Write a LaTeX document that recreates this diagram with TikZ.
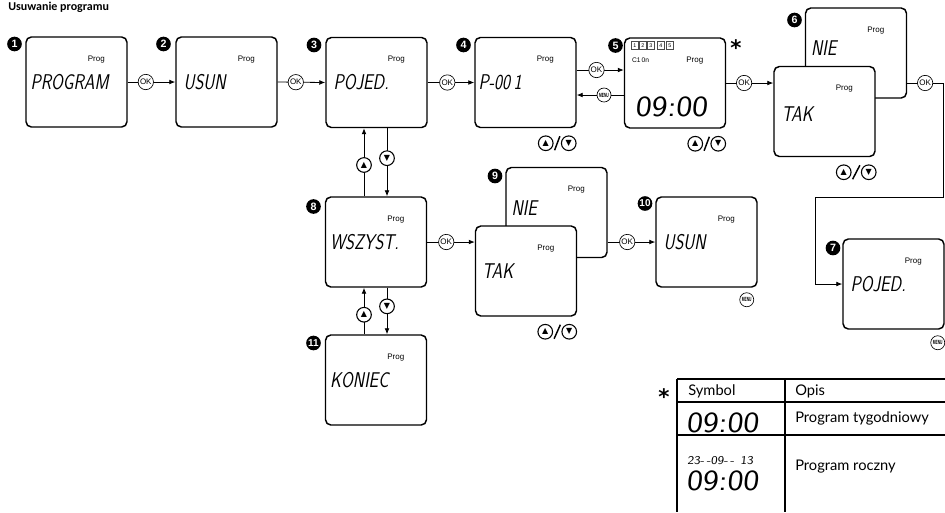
\documentclass[tikz,border=0pt]{standalone}
\usepackage{fontspec}
\setmainfont{Liberation Sans}
\newfontfamily\lcdfont[FakeSlant=0.18,FakeStretch=0.8]{lmsans17-regular.otf}
\newfontfamily\lcddig[FakeSlant=0.1,FakeStretch=1.15]{lmsans17-regular.otf}
\newfontfamily\symfont{DejaVu Sans}
\newfontfamily\tabfont{Lato}
\newfontfamily\titlefont{Carlito}
\newfontfamily\menufont[FakeStretch=0.55]{Liberation Sans}
\usetikzlibrary{arrows.meta}
\tikzset{
  lcdbox/.style={draw, line width=1.1pt, rounded corners=4pt, fill=white,
    minimum width=75.75pt, minimum height=67.5pt, inner sep=0pt},
  badge/.style={circle, fill=black, text=white, inner sep=0pt, minimum size=11pt,
    font=\bfseries\fontsize{8}{8}\selectfont},
  okbtn/.style={circle, draw, fill=white, line width=0.5pt, inner sep=0pt,
    minimum size=11.5pt, font=\fontsize{6}{6}\selectfont},
  menubtn/.style={okbtn, minimum size=10.5pt, font=\menufont\bfseries\fontsize{4.5}{4.5}\selectfont},
  arrbtn/.style={circle, draw, fill=white, line width=0.8pt, inner sep=0pt,
    minimum size=11pt, font=\symfont\fontsize{6}{6}\selectfont},
  conn/.style={line width=0.6pt},
  arr/.style={conn, -{Latex[length=4.5pt,width=3.6pt]}},
  slashln/.style={line width=1.1pt},
  proglbl/.style={font=\fontsize{6}{6}\selectfont, inner sep=0pt},
  lcdtxt/.style={font=\lcdfont\fontsize{16}{16}\selectfont, anchor=west, inner sep=0pt},
  lcdbig/.style={font=\lcddig\fontsize{22}{22}\selectfont, anchor=west, inner sep=0pt},
  sq/.style={draw=black!70, line width=0.3pt, inner sep=0pt, minimum size=5.6pt, font=\fontsize{4}{4}\selectfont},
  tabtxt/.style={font=\tabfont\fontsize{11}{11}\selectfont, anchor=west, inner sep=0pt},
  tabline/.style={line width=0.8pt},
}
\begin{document}
\begin{tikzpicture}[x=0.75pt,y=-0.75pt]
\useasboundingbox (0,0) rectangle (945,512);
\fill[white] (0,0) rectangle (945,512);

% title
\node[anchor=base west, inner sep=0pt, font=\titlefont\bfseries\fontsize{9}{9}\selectfont] (title) at (8,10) {Usuwanie programu};

% ---------- displays ----------
\node[lcdbox] (b1) at (76.5,82) {};
\node[proglbl] (p1) at ([shift={(71,23)}]b1.north west) {Prog};
\node[lcdtxt] (t1) at ([shift={(5,0)}]b1.west) {PROGRAM};

\node[lcdbox] (b2) at (226.5,82) {};
\node[proglbl] (p2) at ([shift={(71,23)}]b2.north west) {Prog};
\node[lcdtxt] (t2) at ([shift={(8,0)}]b2.west) {USUN};

\node[lcdbox] (b3) at (376.5,82.5) {};
\node[proglbl] (p3) at ([shift={(71,23)}]b3.north west) {Prog};
\node[lcdtxt] (t3) at ([shift={(8,0)}]b3.west) {POJED.};

\node[lcdbox] (b4) at (525.5,82.5) {};
\node[proglbl] (p4) at ([shift={(71,23)}]b4.north west) {Prog};
\node[lcdtxt] (t4) at ([shift={(4,0)}]b4.west) {P-00\,1};

\node[lcdbox] (b5) at (675,83) {};
\node[proglbl] (p5) at ([shift={(71,23)}]b5.north west) {Prog};
\node[sq] (s1) at ([shift={(11,8)}]b5.north west) {1};
\node[sq] (s2) at ([shift={(19,8)}]b5.north west) {2};
\node[sq] (s3) at ([shift={(27,8)}]b5.north west) {3};
\node[sq] (s4) at ([shift={(37,8)}]b5.north west) {4};
\node[sq] (s5) at ([shift={(46,8)}]b5.north west) {5};
\node[anchor=west, inner sep=0pt, font=\fontsize{5}{5}\selectfont] (c5) at ([shift={(8,23)}]b5.north west) {C1\,0n};
\node[lcdbig] (t5) at ([shift={(11,24)}]b5.west) {09:00};
\node[inner sep=0pt, font=\symfont\bfseries\fontsize{16}{16}\selectfont] (star1) at (736,48) {*};

\node[lcdbox] (nie6) at (856,53) {};
\node[proglbl] (p6a) at ([shift={(71,23)}]nie6.north west) {Prog};
\node[lcdtxt] (t6a) at ([shift={(6,-5)}]nie6.west) {NIE};
\node[lcdbox] (tak6) at (824.5,111.5) {};
\node[proglbl] (p6b) at ([shift={(71,23)}]tak6.north west) {Prog};
\node[lcdtxt] (t6b) at ([shift={(8,3)}]tak6.west) {TAK};

\node[lcdbox] (b7) at (893.5,284) {};
\node[proglbl] (p7) at ([shift={(71,23)}]b7.north west) {Prog};
\node[lcdtxt] (t7) at ([shift={(8,0)}]b7.west) {POJED.};

\node[lcdbox] (b8) at (376,242) {};
\node[proglbl] (p8) at ([shift={(71,23)}]b8.north west) {Prog};
\node[lcdtxt] (t8) at ([shift={(5,0)}]b8.west) {WSZYST.};

\node[lcdbox] (nie9) at (556.5,212.5) {};
\node[proglbl] (p9a) at ([shift={(71,23)}]nie9.north west) {Prog};
\node[lcdtxt] (t9a) at ([shift={(6,-4)}]nie9.west) {NIE};
\node[lcdbox] (tak9) at (526,271) {};
\node[proglbl] (p9b) at ([shift={(71,23)}]tak9.north west) {Prog};
\node[lcdtxt] (t9b) at ([shift={(7,0)}]tak9.west) {TAK};

\node[lcdbox] (b10) at (706.5,242) {};
\node[proglbl] (p10) at ([shift={(71,23)}]b10.north west) {Prog};
\node[lcdtxt] (t10) at ([shift={(8,0)}]b10.west) {USUN};

\node[lcdbox] (b11) at (376,380) {};
\node[proglbl] (p11) at ([shift={(71,23)}]b11.north west) {Prog};
\node[lcdtxt] (t11) at ([shift={(5,0)}]b11.west) {KONIEC};

% ---------- badges ----------
\node[badge] (n1) at (14.5,44) {1};
\node[badge] (n2) at (163.5,44) {2};
\node[badge] (n3) at (314,45) {3};
\node[badge] (n4) at (463.5,45) {4};
\node[badge] (n5) at (615.5,45.5) {5};
\node[badge] (n6) at (794.5,20) {6};
\node[badge] (n7) at (833,248) {7};
\node[badge] (n8) at (313.5,206.5) {8};
\node[badge] (n9) at (495,176) {9};
\node[badge, font=\bfseries\fontsize{7.5}{7.5}\selectfont] (n10) at (645,203.5) {10};
\node[badge, font=\bfseries\fontsize{7.5}{7.5}\selectfont] (n11) at (313.5,343) {11};

% ---------- connectors ----------
\draw[arr] (b1.east) -- node[okbtn, pos=0.38]{OK} (b2.west);
\draw[arr] (b2.east) -- node[okbtn, pos=0.38]{OK} (b3.west);
\draw[arr] (b3.east) -- node[okbtn, pos=0.42]{OK} (b4.west);

\coordinate (b4u) at ([shift={(0,-12.5)}]b4.east);
\coordinate (b4d) at ([shift={(0,12.5)}]b4.east);
\draw[arr] (b4u) -- node[okbtn, pos=0.42]{OK} (b4u -| b5.west);
\draw[arr] (b4d -| b5.west) -- node[menubtn, pos=0.42]{MENU} (b4d);

\draw[arr] (b5.east) -- node[okbtn, pos=0.38]{OK} (b5.east -| tak6.west);

\coordinate (c6r) at (943,197);
\coordinate (c6l) at (815,197);
\draw[arr] (b5.east -| nie6.east) -- node[okbtn, pos=0.5]{OK} (b5.east -| c6r) -- (c6r) -- (c6l) -- (c6l |- b7.west) -- (b7.west);

% 3 <-> 8
\coordinate (u38) at ([shift={(-12,0)}]b8.north);
\coordinate (d38) at ([shift={(11,0)}]b8.north);
\draw[arr] (u38) -- node[arrbtn, pos=0.46]{▲} (u38 |- b3.south);
\draw[arr] (d38 |- b3.south) -- node[arrbtn, pos=0.44]{▼} (d38);
% 8 <-> 11
\coordinate (u811) at ([shift={(-12,0)}]b11.north);
\coordinate (d811) at ([shift={(11,0)}]b11.north);
\draw[arr] (u811) -- node[arrbtn, pos=0.42]{▲} (u811 |- b8.south);
\draw[arr] (d811 |- b8.south) -- node[arrbtn, pos=0.4]{▼} (d811);

\draw[arr] (b8.east) -- node[okbtn, pos=0.4]{OK} (b8.east -| tak9.west);
\draw[arr] (b10.west -| nie9.east) -- node[okbtn, pos=0.41]{OK} (b10.west);

% ---------- up/down pairs ----------
\node[arrbtn] (ua4) at ([shift={(-31,15)}]b4.south east) {▲};
\node[arrbtn] (da4) at ([shift={(-8,15)}]b4.south east) {▼};
\draw[slashln] ([shift={(1,7)}]ua4.east) -- ([shift={(-1,-7)}]da4.west);

\node[arrbtn] (ua5) at ([shift={(-31,15)}]b5.south east) {▲};
\node[arrbtn] (da5) at ([shift={(-8,15)}]b5.south east) {▼};
\draw[slashln] ([shift={(1,7)}]ua5.east) -- ([shift={(-1,-7)}]da5.west);

\node[arrbtn] (ua6) at ([shift={(-32,15)}]tak6.south east) {▲};
\node[arrbtn] (da6) at ([shift={(-7,15)}]tak6.south east) {▼};
\draw[slashln] ([shift={(1,7)}]ua6.east) -- ([shift={(-1,-7)}]da6.west);

\node[arrbtn] (ua9) at ([shift={(-32,15)}]tak9.south east) {▲};
\node[arrbtn] (da9) at ([shift={(-8,15)}]tak9.south east) {▼};
\draw[slashln] ([shift={(1,7)}]ua9.east) -- ([shift={(-1,-7)}]da9.west);

% menu buttons
\node[menubtn] (m10) at ([shift={(-11,12)}]b10.south east) {MENU};
\node[menubtn] (m7) at ([shift={(-7,13)}]b7.south east) {MENU};

% ---------- table ----------
\node[inner sep=0pt, font=\symfont\bfseries\fontsize{16}{16}\selectfont] (star2) at (664,397) {*};
\draw[tabline, line width=1pt] (677,379) -- (945,379);
\draw[tabline] (677,402) -- (945,402);
\draw[tabline] (677,435) -- (945,435);
\draw[tabline] (677,379) -- (677,512);
\draw[tabline] (785,379) -- (785,512);
\node[tabtxt] (h1) at (688,391) {Symbol};
\node[tabtxt] (h2) at (795,391) {Opis};
\node[lcdbig, font=\lcddig\fontsize{22}{22}\selectfont] (r1s) at (686,423) {09:00};
\node[tabtxt] (r1t) at (795,418) {Program tygodniowy};
\node[anchor=west, inner sep=0pt, font=\lcddig\fontsize{9}{9}\selectfont] (r2d) at (687,461) {23-\,-09-\,-\enspace13};
\node[lcdbig, font=\lcddig\fontsize{22}{22}\selectfont] (r2s) at (686,481) {09:00};
\node[tabtxt] (r2t) at (795,467) {Program roczny};
\end{tikzpicture}
\end{document}
